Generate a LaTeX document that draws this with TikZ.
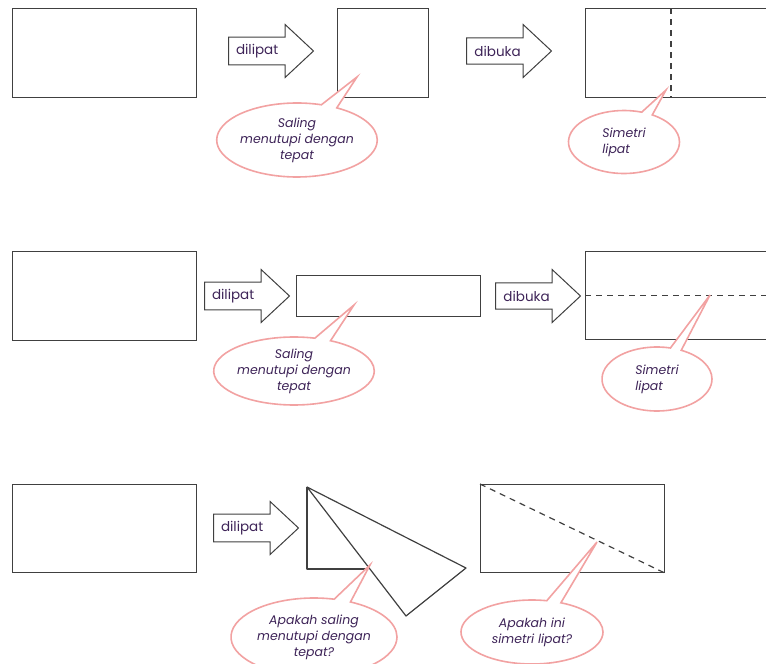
\documentclass[tikz,border=0pt]{standalone}
\usepackage{fontspec}
\setmainfont{Poppins}
\usepackage{tikz}
\usetikzlibrary{shapes.arrows,shapes.callouts}

\definecolor{inkcol}{RGB}{62,36,88}
\definecolor{bubblecol}{RGB}{242,162,162}
\definecolor{edgecol}{RGB}{64,64,64}

\tikzset{
  sheet/.style={draw=edgecol, line width=1.2pt, anchor=north west, inner sep=0pt},
  foldline/.style={draw=edgecol, line width=1.2pt, dash pattern=on 6pt off 5pt},
  stepbox/.style={single arrow, draw=edgecol, line width=1pt, fill=white,
    single arrow head extend=12pt, single arrow tip angle=86,
    minimum width=53pt, minimum height=85pt, inner xsep=1pt, inner ysep=6pt,
    text width=55pt, align=left,
    anchor=tail, font=\fontsize{13.5}{15}\selectfont, text=inkcol},
  bubble/.style={ellipse callout, draw=bubblecol, line width=1.6pt, fill=white,
    inner sep=0pt, align=center, text=inkcol, callout pointer arc=12,
    font=\itshape\fontsize{12.5}{16}\selectfont},
}

\begin{document}
\begin{tikzpicture}[x=1pt,y=-1pt]
  \useasboundingbox (0,0) rectangle (766,664);
  \clip (0,0) rectangle (766,664);

  % row 1
  \node[sheet, minimum width=184pt, minimum height=89pt] (r1a) at (12,8) {};
  \node[stepbox] (s1a) at (228,51) {dilipat};
  \node[sheet, minimum width=91pt, minimum height=89pt] (r1b) at (337,8) {};
  \node[stepbox] (s1b) at (466,51) {dibuka};
  \node[sheet, minimum width=210pt, minimum height=89pt] (r1c) at (585,8) {};
  \draw[foldline] ([xshift=86pt]r1c.north west) -- ([xshift=86pt]r1c.south west);

  % row 2
  \node[sheet, minimum width=184pt, minimum height=89pt] (r2a) at (12,251) {};
  \node[stepbox] (s2a) at (204,296) {dilipat};
  \node[sheet, minimum width=184pt, minimum height=41pt] (r2b) at (296,275) {};
  \node[stepbox] (s2b) at (495,296) {dibuka};
  \node[sheet, minimum width=210pt, minimum height=88pt] (r2c) at (585,251) {};
  \draw[foldline] (r2c.west) -- (r2c.east);

  % row 3
  \node[sheet, minimum width=184pt, minimum height=88pt] (r3a) at (12,484) {};
  \node[stepbox] (s3a) at (213,528) {dilipat};
  \coordinate (t1) at (307,487);
  \coordinate (t2) at (307,569);
  \coordinate (t3) at (367,569);
  \coordinate (t4) at (466,568);
  \coordinate (t5) at (406,616);
  \draw[edgecol, line width=1.2pt, line join=round] (t1) -- (t4) -- (t5) -- cycle;
  \draw[edgecol, line width=1.2pt, line join=round] (t1) -- (t2) -- (t3);
  \node[sheet, minimum width=184pt, minimum height=88pt] (r3c) at (480,484) {};
  \draw[foldline] (r3c.north west) -- (r3c.south east);

  % pointer tips
  \coordinate (p1a) at (357,77);
  \coordinate (p1b) at (666,90);
  \coordinate (p2a) at (354,305);
  \coordinate (p2b) at (710,295);
  \coordinate (p3a) at (370,565);
  \coordinate (p3b) at (597,542);

  % bubbles
  \node[bubble, minimum width=158pt, minimum height=74pt, callout absolute pointer={(p1a)}] (b1a) at (297,140) {Saling\\menutupi dengan\\tepat};
  \node[bubble, minimum width=111pt, minimum height=63pt, align=left, callout absolute pointer={(p1b)}] (b1b) at (624,142) {Simetri\\lipat};
  \node[bubble, minimum width=158pt, minimum height=68pt, callout absolute pointer={(p2a)}] (b2a) at (294,371) {Saling\\menutupi dengan\\tepat};
  \node[bubble, minimum width=110pt, minimum height=64pt, align=left, callout absolute pointer={(p2b)}] (b2b) at (657,379) {Simetri\\lipat};
  \node[bubble, minimum width=166pt, minimum height=78pt, callout absolute pointer={(p3a)}] (b3a) at (314,637) {Apakah saling\\menutupi dengan\\tepat?};
  \node[bubble, minimum width=142pt, minimum height=64pt, callout absolute pointer={(p3b)}] (b3b) at (532,632) {Apakah ini\\simetri lipat?};
\end{tikzpicture}
\end{document}
